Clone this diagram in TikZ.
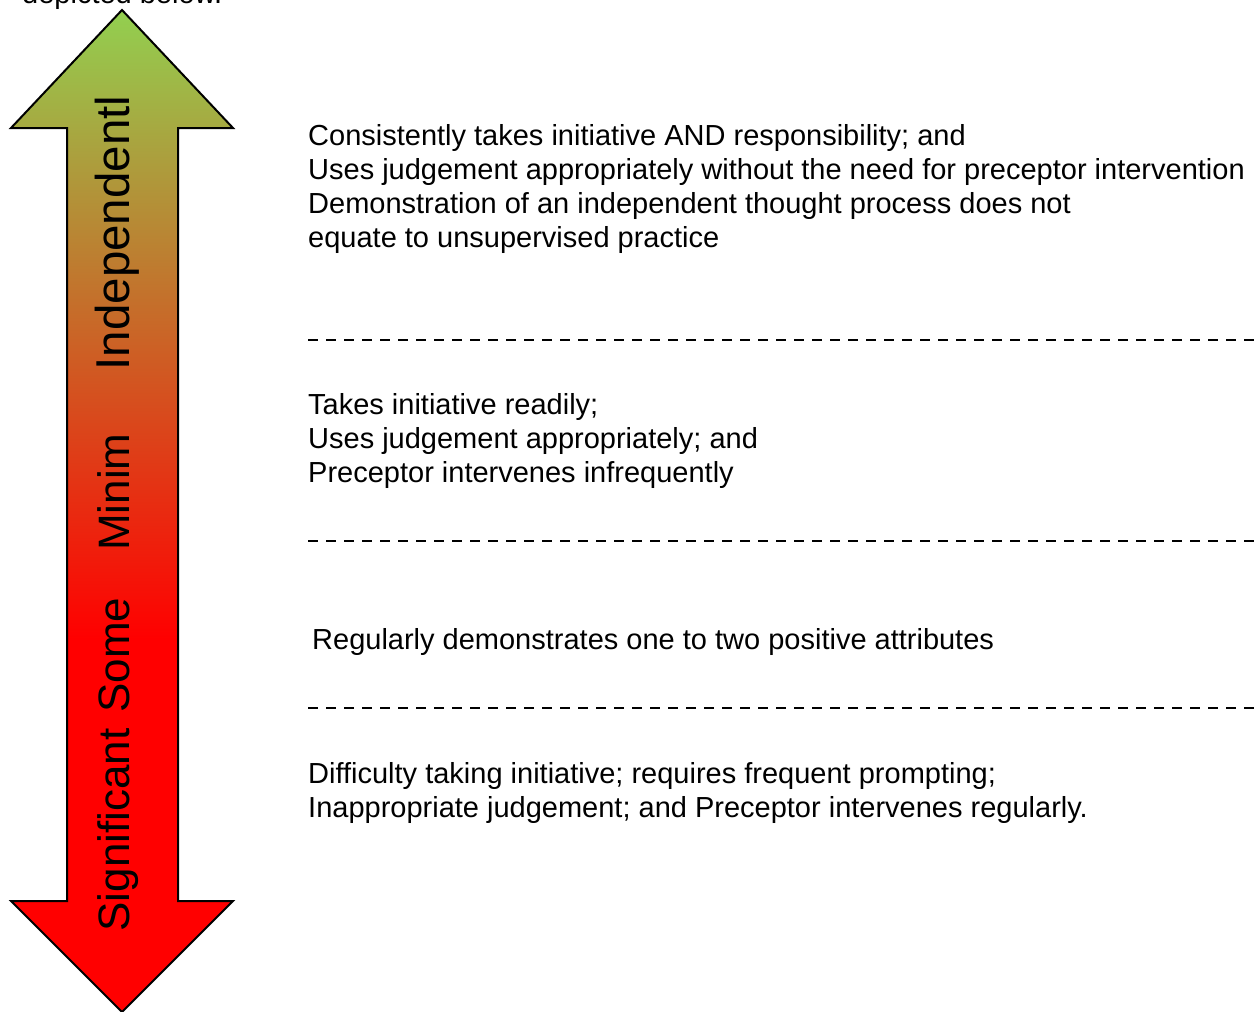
\documentclass[tikz,border=0pt]{standalone}
\usepackage{fontspec}
\setmainfont{Liberation Sans}
\usetikzlibrary{positioning}
\definecolor{arrowgreen}{HTML}{92D050}
\definecolor{arrowred}{HTML}{FF0000}
\pgfdeclareverticalshading{levelshade}{100bp}{color(0bp)=(arrowred); color(25bp)=(arrowred); color(43.6bp)=(arrowred); color(75bp)=(arrowgreen); color(100bp)=(arrowgreen)}
\begin{document}
\begin{tikzpicture}[x=1pt, y=-1pt, line join=miter,
    desc/.style={font=\fontsize{29}{34}\selectfont, align=left, anchor=base west, inner sep=0pt},
    lvl/.style={font=\fontsize{44}{50}\selectfont, rotate=90, anchor=base, inner sep=0pt},
    sepline/.style={line width=2.5pt, dash pattern=on 10pt off 8pt}]
             \useasboundingbox (0,0) rectangle (1256,1012);
             \clip (0,0) rectangle (1256,1012);
             %
             \node[desc] (intro) at (22,3) {depicted below.};
             %
             \path[shading=levelshade, draw=black, line width=2pt]
                (122,10) -- (233,128) -- (178,128) -- (178,901) -- (233,901)
                -- (122,1012) -- (11,901) -- (67,901) -- (67,128) -- (11,128) -- cycle;
             %
             \node[lvl] (sig) at (129,830) {Significant};
             \node[lvl] (some) at (129,655) {Some};
             \node[lvl] (minim) at (129,492) {Minim};
             \node[lvl, font=\fontsize{47.5}{52}\selectfont] (indep) at (129,233) {Independentl};
             %
             \node[desc] (d4) at (308,247) {Consistently takes initiative AND responsibility; and\\
                Uses judgement appropriately without the need for preceptor intervention\\
                Demonstration of an independent thought process does not\\
                equate to unsupervised practice};
             \node[desc] (d3) at (308,482) {Takes initiative readily;\\
                Uses judgement appropriately; and\\
                Preceptor intervenes infrequently};
             \node[desc] (d2) at (312,649) {Regularly demonstrates one to two positive attributes};
             \node[desc] (d1) at (308,817) {Difficulty taking initiative; requires frequent prompting;\\
                Inappropriate judgement; and Preceptor intervenes regularly.};
             %
             \coordinate (s3a) at (308,340); \coordinate (s3b) at (1256,340);
             \coordinate (s2a) at (308,541); \coordinate (s2b) at (1256,541);
             \coordinate (s1a) at (308,708); \coordinate (s1b) at (1256,708);
             \draw[sepline] (s3a) -- (s3b);
             \draw[sepline] (s2a) -- (s2b);
             \draw[sepline] (s1a) -- (s1b);
\end{tikzpicture}
\end{document}
